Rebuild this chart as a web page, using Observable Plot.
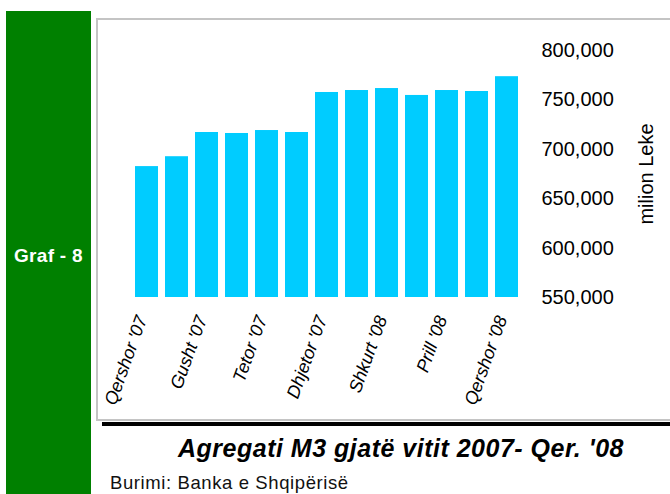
<!DOCTYPE html>
<html>
<head>
<meta charset="utf-8">
<script src="https://cdn.jsdelivr.net/npm/d3@7"></script>
<script src="https://cdn.jsdelivr.net/npm/@observablehq/plot@0.6"></script>
<style>
  html, body { margin: 0; padding: 0; background: #fff; overflow: hidden; }
  #page { position: relative; width: 670px; height: 494px; overflow: hidden; font-family: "Liberation Sans", Arial, sans-serif; }
  .abs { position: absolute; white-space: nowrap; line-height: 1; }
  #side { left: 6px; top: 11px; width: 85px; height: 483px; background: #008000; }
  #graf { left: 14px; top: 246px; color: #fff; font-weight: bold; font-size: 19px; letter-spacing: 0.3px; }
  #panel { left: 96px; top: 18px; width: 640px; height: 403px; box-sizing: border-box; border: 2px solid #c4c4c4; background: #fff; }
  #rule { left: 102px; top: 422px; width: 600px; height: 4px; background: #000; }
  #chart { left: 96px; top: 18px; }
  #title { left: 178px; top: 436px; font-size: 25px; font-weight: bold; font-style: italic; letter-spacing: 0.5px; color: #000; }
  #caption { left: 110px; top: 474px; font-size: 18.5px; letter-spacing: 0.6px; color: #111; }
</style>
</head>
<body>
<div id="page">
  <div class="abs" id="side"></div>
  <div class="abs" id="graf">Graf - 8</div>
  <div class="abs" id="panel"></div>
  <div class="abs" id="rule"></div>
  <div class="abs" id="chart"></div>
  <div class="abs" id="title">Agregati M3 gjatë vitit 2007- Qer. '08</div>
  <div class="abs" id="caption">Burimi: Banka e Shqipërisë</div>
</div>
<script>
const months = ["Qershor '07", "Korrik '07", "Gusht '07", "Shtator '07", "Tetor '07", "Nëntor '07", "Dhjetor '07",
                "Janar '08", "Shkurt '08", "Mars '08", "Prill '08", "Maj '08", "Qershor '08"];
const m3Values = [682500, 692500, 717000, 716000, 719000, 717000, 757500, 759500, 761500, 754500, 759500, 758500, 773500];
const xTickLabels = ["Qershor '07", "Gusht '07", "Tetor '07", "Dhjetor '07", "Shkurt '08", "Prill '08", "Qershor '08"];
const yTicks = [550000, 600000, 650000, 700000, 750000, 800000];
const yLabel = "milion Leke";

const data = months.map((m, i) => ({month: m, value: m3Values[i]}));

const chart = Plot.plot({
  width: 574,
  height: 403,
  marginTop: 32,
  marginBottom: 124,
  marginLeft: 28.5,
  marginRight: 141.5,
  style: {background: "transparent", fontFamily: "'Liberation Sans', Arial, sans-serif", color: "#000"},
  x: {domain: months, padding: 0.246, axis: null},
  y: {domain: [550000, 800000], axis: null},
  marks: [
    Plot.barY(data, {x: "month", y1: () => 550000, y2: "value", fill: "#00CCFF"}),
    Plot.axisX(xTickLabels, {anchor: "bottom", tickSize: 0, tickPadding: 19, tickRotate: -70, dx: -5, fontSize: 18, fontStyle: "italic", label: null}),
    Plot.axisY(yTicks, {anchor: "right", tickSize: 0, tickPadding: 12.5, fontSize: 20, tickFormat: d3.format(","), label: null}),
    Plot.text([yLabel], {frameAnchor: "right", textAnchor: "middle", dx: 117.5, rotate: -90, fontSize: 20, fill: "#000"})
  ]
});
document.getElementById("chart").appendChild(chart);
</script>
</body>
</html>
